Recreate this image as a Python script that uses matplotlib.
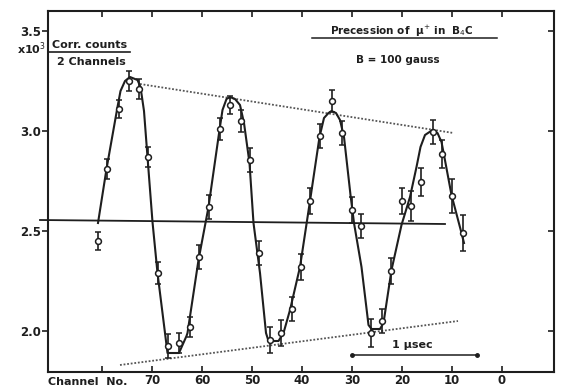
import matplotlib
matplotlib.use("Agg")
import matplotlib.pyplot as plt

# measured points (channel number, corrected counts /1000 per 2 channels)
channels = [80.9, 79.1, 76.7, 74.6, 72.7, 70.9, 68.9, 66.9, 64.6, 62.5, 60.6, 58.7,
            56.4, 54.4, 52.3, 50.4, 48.6, 46.5, 44.3, 42.1, 40.3, 38.4, 36.4, 34.1,
            32.1, 30.1, 28.3, 26.3, 24.1, 22.2, 20.1, 18.3, 16.2, 13.9, 12.1, 10.1, 7.9]
counts = [2.45, 2.81, 3.11, 3.25, 3.21, 2.87, 2.29, 1.925, 1.94, 2.02, 2.37, 2.62,
          3.01, 3.13, 3.05, 2.855, 2.39, 1.955, 1.99, 2.11, 2.32, 2.65, 2.975, 3.15,
          2.99, 2.605, 2.525, 1.99, 2.05, 2.30, 2.65, 2.625, 2.745, 2.995, 2.885, 2.675, 2.49]
errors = [0.045, 0.05, 0.046, 0.05, 0.05, 0.052, 0.055, 0.058, 0.05, 0.05, 0.06, 0.058,
          0.056, 0.046, 0.054, 0.058, 0.058, 0.067, 0.065, 0.058, 0.067, 0.067, 0.058, 0.054,
          0.058, 0.067, 0.062, 0.07, 0.058, 0.064, 0.067, 0.075, 0.068, 0.062, 0.07, 0.083, 0.088]

# fitted curve vertices
curve_ch = [80.8, 79.1, 76.9, 76.3, 75.4, 74.4, 72.9, 72.3, 71.6, 70.9, 69.9, 68.9, 67.4,
            66.9, 64.6, 63.1, 62.9, 60.7, 58.7, 56.5, 55.9, 55.1, 54.4, 53.4, 52.4, 51.6,
            50.5, 49.7, 48.4, 47.2, 46.7, 44.7, 43.7, 42.4, 40.4, 38.4, 36.5, 35.6, 34.7,
            34.1, 33.2, 32.4, 31.6, 30.3, 29.6, 28.1, 26.7, 26.1, 24.4, 23.7, 22.1, 20.1,
            18.4, 17.1, 16.3, 15.4, 13.9, 12.9, 12.1, 11.6, 10.1, 8.1, 7.6]
curve_v = [2.54, 2.81, 3.12, 3.20, 3.25, 3.27, 3.255, 3.22, 3.10, 2.87, 2.545, 2.29, 1.99,
           1.89, 1.89, 1.975, 1.99, 2.355, 2.62, 3.005, 3.105, 3.16, 3.17, 3.16, 3.13, 3.04,
           2.84, 2.54, 2.29, 1.99, 1.95, 1.95, 1.99, 2.105, 2.32, 2.65, 2.97, 3.065, 3.09,
           3.10, 3.09, 3.055, 2.97, 2.68, 2.54, 2.32, 2.03, 2.01, 2.01, 2.04, 2.305, 2.53,
           2.67, 2.82, 2.92, 2.98, 3.005, 2.99, 2.945, 2.88, 2.68, 2.49, 2.44]

# envelope and mean lines
upper_ch = [72.4, 9.7]
upper_v = [3.235, 2.99]
lower_ch = [76.4, 8.8]
lower_v = [1.83, 2.05]
mean_ch = [92.4, 11.4]
mean_v = [2.555, 2.535]

xticks = [0, 10, 20, 30, 40, 50, 60, 70, 80]
xticklabels = ["0", "10", "20", "30", "40", "50", "60", "70", ""]
yticks = [2.0, 2.5, 3.0, 3.5]
yticklabels = ["2.0", "2.5", "3.0", "3.5"]

ink = "#1e1e1e"
plt.rcParams['font.family'] = ['DejaVu Sans']

fig = plt.figure(figsize=(5.61, 3.90), dpi=100)
ax = fig.add_axes([48/561, 18/390, 506/561, 361/390])
ax.set_xlim(90.8, -10.4)
ax.set_ylim(1.795, 3.6)

ax.plot(curve_ch, curve_v, color=ink, lw=1.5, solid_joinstyle='round', zorder=3)
ax.errorbar(channels, counts, yerr=errors, fmt='o', ms=4.2, mfc='white', mec=ink,
            mew=1.1, ecolor=ink, elinewidth=1.2, capsize=2, capthick=1.2, zorder=4)

ax.plot(upper_ch, upper_v, color="#555555", lw=1.3, ls=(0, (1, 1)), zorder=2)
ax.plot(lower_ch, lower_v, color="#555555", lw=1.3, ls=(0, (1, 1)), zorder=2)
ax.plot(mean_ch, mean_v, color=ink, lw=1.3, clip_on=False, zorder=2)

# 1 usec bar
ax.plot([30, 5], [1.88, 1.88], color=ink, lw=1.1, marker='o', ms=2.5, zorder=2)
ax.text(18, 1.905, "1 μsec", ha='center', va='bottom', fontsize=8, fontweight='bold', color=ink)

for s in ax.spines.values():
    s.set_linewidth(1.5)
    s.set_color(ink)

ax.set_xticks(xticks)
ax.set_xticklabels(xticklabels, fontsize=8.5, fontweight='bold', color=ink)
ax.set_yticks(yticks)
ax.set_yticklabels(yticklabels, fontsize=8.5, fontweight='bold', color=ink)
ax.tick_params(axis='x', direction='in', length=4, width=1.2, pad=1.5, top=True, colors=ink)
ax.tick_params(axis='y', direction='out', length=4, width=1.2, pad=1, colors=ink)

# inward ticks on the right frame
axr = ax.twinx()
axr.set_ylim(ax.get_ylim())
axr.set_yticks(yticks)
axr.set_yticklabels([])
axr.tick_params(axis='y', direction='in', length=4, width=1.2, colors=ink)
for s in axr.spines.values():
    s.set_visible(False)

ax.text(0.0, -0.028, "Channel  No.", transform=ax.transAxes, ha='left', va='center',
        fontsize=8, fontweight='bold', color=ink)

ax.text(0.70, 0.944, "Precession of  μ$^{+}$ in  B$_4$C", transform=ax.transAxes,
        ha='center', va='center', fontsize=7.5, fontweight='bold', color=ink)
ax.plot([0.522, 0.887], [0.926, 0.926], transform=ax.transAxes, color=ink, lw=1.1)
ax.text(0.692, 0.864, "B = 100 gauss", transform=ax.transAxes,
        ha='center', va='center', fontsize=7.5, fontweight='bold', color=ink)

ax.text(0.082, 0.907, "Corr. counts", transform=ax.transAxes,
        ha='center', va='center', fontsize=8, fontweight='bold', color=ink)
ax.plot([0.0, 0.163], [0.886, 0.886], transform=ax.transAxes, color=ink, lw=1.2)
ax.text(0.085, 0.860, "2 Channels", transform=ax.transAxes,
        ha='center', va='center', fontsize=8, fontweight='bold', color=ink)
ax.text(-0.004, 0.895, "x10$^3$", transform=ax.transAxes,
        ha='right', va='center', fontsize=8, fontweight='bold', color=ink)

fig.savefig("out.png", dpi=100, facecolor='white')
